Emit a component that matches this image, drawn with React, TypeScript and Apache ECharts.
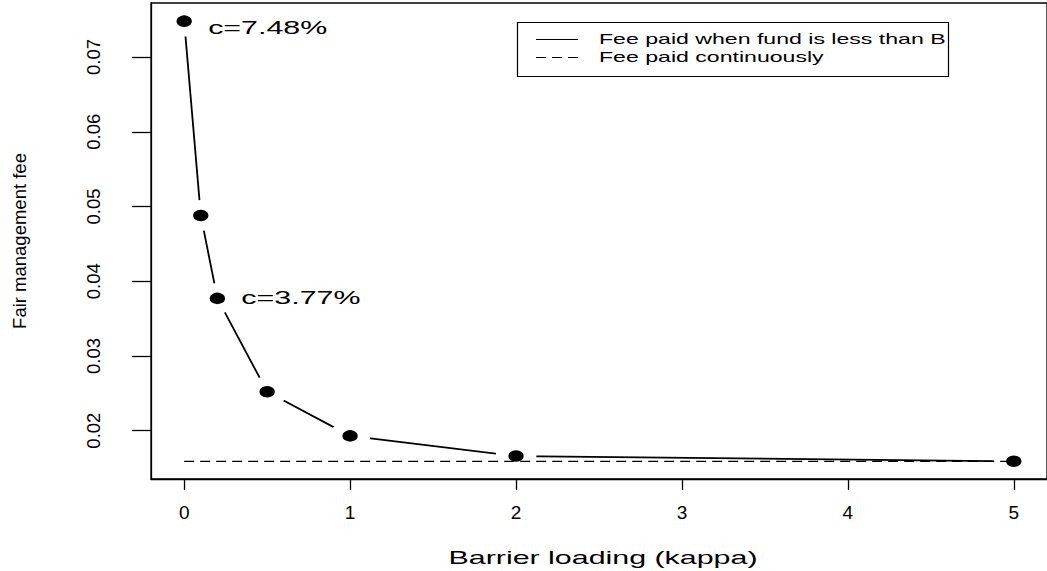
import React, { useEffect, useRef } from "react";
import * as echarts from "echarts";

// Barrier loading values (kappa) and the fair fee when paid only below the barrier B
const kappa = [0, 0.1, 0.2, 0.5, 1, 2, 5];
const feeBarrier = [0.0748, 0.0488, 0.0377, 0.0252, 0.0193, 0.0166, 0.0159];

// Fair fee when paid continuously (flat reference line)
const kappaContinuous = [0, 5];
const feeContinuous = [0.0159, 0.0159];

const xTicks = [0, 1, 2, 3, 4, 5];
const yTicks = [0.02, 0.03, 0.04, 0.05, 0.06, 0.07];

const seriesNames = ["Fee paid when fund is less than B", "Fee paid continuously"];
const xTitle = "Barrier loading (kappa)";
const yTitle = "Fair management fee";

// Points annotated with their fee, as c=..%
const labelledPoints = [0, 2];

const FONT = "'Liberation Sans', Arial, Helvetica, sans-serif";
const W = 1047;
const H = 571;

export default function App() {
  const ref = useRef<HTMLDivElement | null>(null);

  useEffect(() => {
    if (!ref.current) return;
    const chart = echarts.init(ref.current, null, { renderer: "svg", width: W, height: H });

    const option: any = {
      animation: false,
      backgroundColor: "#ffffff",
      grid: {
        left: 151,
        right: -8,
        top: 3,
        bottom: 92,
        show: true,
        borderColor: "#000",
        borderWidth: 1.3,
        backgroundColor: "transparent",
      },
      xAxis: {
        type: "value",
        position: "bottom",
        min: -0.2,
        max: 5.2,
        axisLine: { show: true, onZero: false, lineStyle: { color: "#000", width: 1.3 } },
        splitLine: { show: false },
        axisTick: {
          show: true,
          inside: false,
          length: 11,
          customValues: xTicks,
          lineStyle: { color: "#000", width: 1.3 },
        },
        axisLabel: {
          customValues: xTicks,
          margin: 24,
          color: "#000",
          fontSize: 19,
          fontFamily: FONT,
        },
      },
      yAxis: {
        type: "value",
        position: "left",
        min: 0.01353,
        max: 0.07723,
        axisLine: { show: true, onZero: false, lineStyle: { color: "#000", width: 1.3 } },
        splitLine: { show: false },
        axisTick: {
          show: true,
          inside: false,
          length: 19,
          customValues: yTicks,
          lineStyle: { color: "#000", width: 1.3 },
        },
        axisLabel: {
          customValues: yTicks,
          rotate: 90,
          margin: 48.5,
          color: "#000",
          fontSize: 18.5,
          fontFamily: FONT,
          formatter: (v: number) => v.toFixed(2),
        },
        name: yTitle,
        nameLocation: "middle",
        nameGap: 122,
        nameTextStyle: { color: "#000", fontSize: 18.5, fontFamily: FONT },
      },
      series: [
        {
          name: seriesNames[0],
          type: "line",
          data: kappa.map((k, i) => [k, feeBarrier[i]]),
          symbol: "circle",
          symbolSize: [28, 21],
          lineStyle: { color: "#000", width: 1.8 },
          itemStyle: { color: "#000", borderColor: "#fff", borderWidth: 11 },
          emphasis: { disabled: true },
          z: 2,
        },
        {
          name: seriesNames[1],
          type: "line",
          data: kappaContinuous.map((k, i) => [k, feeContinuous[i]]),
          symbol: "none",
          lineStyle: { color: "#000", width: 1.2, type: [10, 6] },
          emphasis: { disabled: true },
          z: 3,
        },
      ],
    };

    chart.setOption(option);

    // Annotations placed beside their points, in pixel space from the axes
    const labelOffsets = [
      [24, 6.5],
      [24, -0.7],
    ];
    const annotations = labelledPoints.map((idx, j) => {
      const p = chart.convertToPixel({ gridIndex: 0 }, [kappa[idx], feeBarrier[idx]]) as number[];
      return {
        type: "text",
        x: p[0] + labelOffsets[j][0],
        y: p[1] + labelOffsets[j][1],
        scaleX: 1.6,
        z: 10,
        style: {
          text: `c=${(feeBarrier[idx] * 100).toFixed(2)}%`,
          font: `19px ${FONT}`,
          fill: "#000",
          textAlign: "left",
          textVerticalAlign: "middle",
          align: "left",
          verticalAlign: "middle",
        },
      };
    });

    const legendText = (text: string, y: number) => ({
      type: "text",
      x: 599,
      y,
      scaleX: 1.54,
      style: {
        text,
        font: `15px ${FONT}`,
        fill: "#000",
        textAlign: "left",
        textVerticalAlign: "middle",
        align: "left",
        verticalAlign: "middle",
      },
    });

    chart.setOption({
      graphic: [
        ...annotations,
        {
          type: "text",
          x: 603,
          y: 557.5,
          scaleX: 1.6,
          style: {
            text: xTitle,
            font: `19px ${FONT}`,
            fill: "#000",
            textAlign: "center",
            textVerticalAlign: "middle",
            align: "center",
            verticalAlign: "middle",
          },
        },
        {
          type: "group",
          children: [
            {
              type: "rect",
              shape: { x: 517.5, y: 22.5, width: 431, height: 54 },
              style: { fill: "#fff", stroke: "#000", lineWidth: 1.2 },
            },
            {
              type: "line",
              shape: { x1: 536, y1: 39.5, x2: 578, y2: 39.5 },
              style: { stroke: "#000", lineWidth: 1.1 },
            },
            {
              type: "line",
              shape: { x1: 536, y1: 57.5, x2: 578, y2: 57.5 },
              style: { stroke: "#000", lineWidth: 1.1, lineDash: [10, 6] },
            },
            legendText(seriesNames[0], 38.5),
            legendText(seriesNames[1], 57),
          ],
        },
      ],
    });

    return () => {
      chart.dispose();
    };
  }, []);

  return (
    <div
      ref={ref}
      style={{ position: "absolute", left: 0, top: 0, width: W, height: H, overflow: "hidden" }}
    />
  );
}
